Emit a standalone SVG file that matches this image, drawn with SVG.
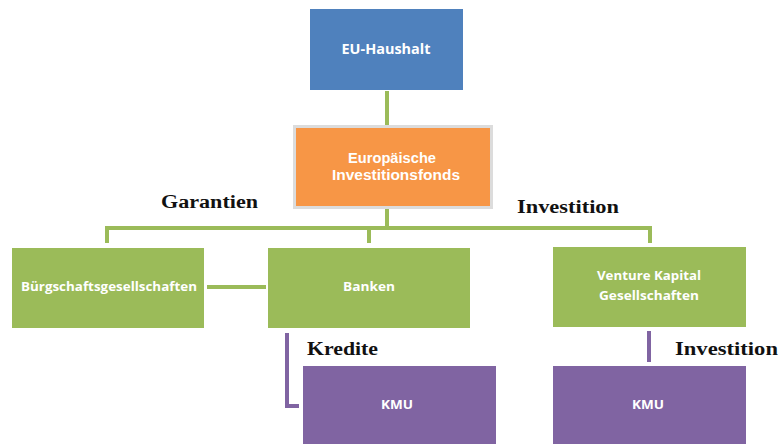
<svg xmlns="http://www.w3.org/2000/svg" width="780" height="444" viewBox="0 0 780 444">
<style>
.box text{fill:#fff;font-family:"Open Sans","Liberation Sans",sans-serif;font-weight:bold;font-size:13px;text-anchor:middle}
.box text.big{font-size:14px}
.box text.two{font-family:"Liberation Sans",sans-serif;font-size:14.5px}
.lbl{fill:#111;font-family:"Liberation Serif",serif;font-weight:bold;font-size:18px}
.g{stroke:#9bbb59;stroke-width:4;fill:none}
.p{stroke:#8064a2;stroke-width:4;fill:none}
.green{fill:#9bbb59}
.purple{fill:#8064a2}
</style>
<rect width="780" height="444" fill="#fff"/>
<g id="connectors">
<line class="g" x1="387" y1="91" x2="387" y2="125"/>
<line class="g" x1="387" y1="209" x2="387" y2="230"/>
<polyline class="g" points="107,243 107,228 650,228 650,243"/>
<line class="g" x1="369" y1="228" x2="369" y2="243"/>
<line class="g" x1="207" y1="287" x2="266" y2="287"/>
<polyline class="p" points="287,333 287,406 299,406"/>
<line class="p" x1="649" y1="331" x2="649" y2="362"/>
</g>
<g id="eu" class="box">
<rect x="310" y="9" width="153" height="81" fill="#4f81bd"/>
<text class="big" x="386" y="54" textLength="89" lengthAdjust="spacingAndGlyphs">EU-Haushalt</text>
</g>
<g id="eif" class="box">
<rect x="294.5" y="126.5" width="197" height="81" fill="#f79646" stroke="#dcdcdc" stroke-width="3"/>
<text class="two" x="392" y="163" textLength="88" lengthAdjust="spacingAndGlyphs">Europäische</text>
<text class="two" x="396" y="180" textLength="128" lengthAdjust="spacingAndGlyphs">Investitionsfonds</text>
</g>
<g id="buerg" class="box">
<rect x="12" y="248" width="192" height="80" class="green"/>
<text x="109" y="291" textLength="176" lengthAdjust="spacingAndGlyphs">Bürgschaftsgesellschaften</text>
</g>
<g id="banken" class="box">
<rect x="268" y="248" width="202" height="80" class="green"/>
<text x="369" y="291" textLength="52" lengthAdjust="spacingAndGlyphs">Banken</text>
</g>
<g id="vc" class="box">
<rect x="553" y="247" width="193" height="80" class="green"/>
<text x="649" y="280" textLength="104" lengthAdjust="spacingAndGlyphs">Venture Kapital</text>
<text x="649" y="300" textLength="100" lengthAdjust="spacingAndGlyphs">Gesellschaften</text>
</g>
<g id="kmu1" class="box">
<rect x="303" y="366" width="193" height="80" class="purple"/>
<text x="397" y="409" textLength="32" lengthAdjust="spacingAndGlyphs">KMU</text>
</g>
<g id="kmu2" class="box">
<rect x="553" y="366" width="193" height="80" class="purple"/>
<text x="648" y="409" textLength="32" lengthAdjust="spacingAndGlyphs">KMU</text>
</g>
<g id="labels">
<text class="lbl" x="161" y="208" textLength="97" lengthAdjust="spacingAndGlyphs">Garantien</text>
<text class="lbl" x="517" y="213" textLength="102" lengthAdjust="spacingAndGlyphs">Investition</text>
<text class="lbl" x="307" y="355" textLength="71" lengthAdjust="spacingAndGlyphs">Kredite</text>
<text class="lbl" x="675" y="355" textLength="103" lengthAdjust="spacingAndGlyphs">Investition</text>
</g>
</svg>
